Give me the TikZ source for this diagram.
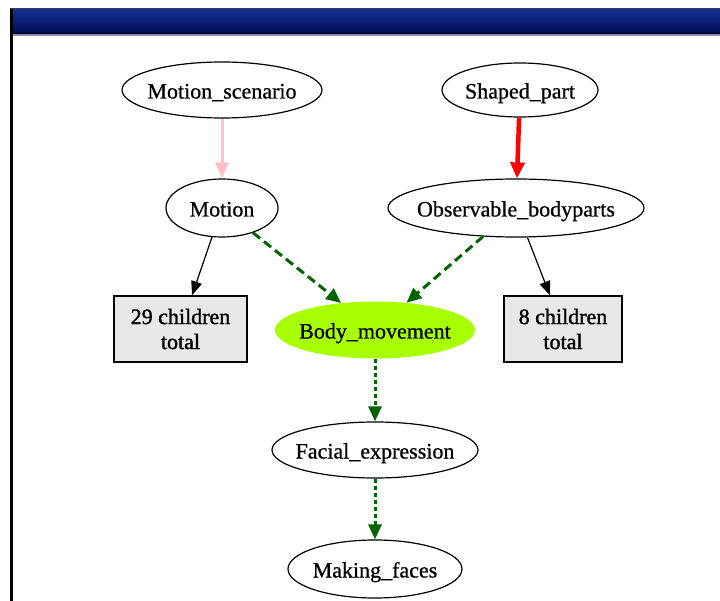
\documentclass[tikz,border=0pt]{standalone}
\usepackage{fontspec}
\setmainfont{Liberation Serif}[FakeBold=0.7]
\newfontfamily\boxfont{Liberation Serif}[FakeBold=1.4]
\usetikzlibrary{shapes.geometric,arrows.meta}
\definecolor{bartop}{RGB}{20,50,150}
\definecolor{barmid}{RGB}{0,18,112}
\definecolor{barbot}{RGB}{0,10,85}
\definecolor{barline}{RGB}{140,140,175}
\definecolor{boxgray}{RGB}{232,232,232}
\definecolor{bodygreen}{RGB}{168,255,0}
\definecolor{edgegreen}{RGB}{0,100,0}
\definecolor{edgepink}{RGB}{255,192,203}
\definecolor{edgered}{RGB}{255,0,0}
\newcommand\lblfont{\fontsize{22}{25}\selectfont}
\newcommand\boxlblfont{\boxfont\fontsize{22}{25}\selectfont}
\tikzset{
  ell/.style 2 args={ellipse, draw, line width=1.2pt, inner sep=0pt,
    minimum width=#1, minimum height=#2, text height=20pt, text depth=3pt, font=\lblfont},
  bodyell/.style 2 args={ellipse, fill=bodygreen, inner sep=0pt,
    minimum width=#1, minimum height=#2, text height=20pt, text depth=3pt, font=\lblfont},
  cbox/.style 2 args={rectangle, draw, fill=boxgray, line width=1.5pt, inner sep=0pt,
    minimum width=#1, minimum height=#2, align=center, font=\boxlblfont},
  thinarrow/.style={draw=black, line width=1.2pt, -{Triangle[length=14pt,width=11pt]}},
  pinkarrow/.style={draw=edgepink, line width=3pt, -{Triangle[length=16pt,width=13pt]}},
  redarrow/.style={draw=edgered, line width=4.5pt, -{Triangle[length=16pt,width=14pt]}},
  greendash/.style={draw=edgegreen, line width=3pt, dash pattern=on 9pt off 5pt,
    -{Triangle[length=15pt,width=13pt]}},
  greendot/.style={draw=edgegreen, line width=3pt, dash pattern=on 4pt off 3pt,
    -{Triangle[length=15pt,width=13pt]}}
}
\begin{document}
\begin{tikzpicture}[x=1pt,y=-1pt]
\useasboundingbox (0,0) rectangle (720,601);
\fill[white] (0,0) rectangle (720,601);
% window frame
\shade[top color=bartop, middle color=barmid, bottom color=barbot] (11,9) rectangle (720,33);
\draw[black, line width=1.2pt] (11,33.4) -- (720,33.4);
\draw[barline, line width=1.4pt] (11,35) -- (720,35);
\draw[darkgray, line width=1pt] (10,9) -- (720,9);
\draw[black, line width=3pt] (11.5,9) -- (11.5,601);
% nodes
\node[ell={200pt}{56pt}] (ms) at (222,90) {\makebox[0pt]{Motion\_scenario}};
\node[ell={156pt}{54pt}] (sp) at (520,90) {\makebox[0pt]{Shaped\_part}};
\node[ell={112pt}{58pt}] (mo) at (222,208) {\makebox[0pt]{Motion}};
\node[ell={256pt}{58pt}] (ob) at (516,208) {\makebox[0pt]{Observable\_bodyparts}};
\node[cbox={133pt}{66pt}] (c29) at (180.5,329) {29 children\\total};
\node[bodyell={200pt}{57pt}] (bm) at (375,330) {\makebox[0pt]{Body\_movement}};
\node[cbox={118pt}{66pt}] (c8) at (563,329) {8 children\\total};
\node[ell={206pt}{56pt}] (fe) at (375,450) {\makebox[0pt]{Facial\_expression}};
\node[ell={174pt}{58pt}] (mf) at (375,569) {\makebox[0pt]{Making\_faces}};
% edges
\draw[pinkarrow] (ms) -- (mo);
\draw[redarrow] (sp) -- (ob);
\draw[thinarrow] (mo) -- (c29);
\draw[thinarrow] (ob) -- (c8);
\draw[greendash] (mo) -- (bm);
\draw[greendash] (ob) -- (bm);
\draw[greendot] (bm) -- (fe);
\draw[greendot] (fe) -- (mf);
\end{tikzpicture}
\end{document}
